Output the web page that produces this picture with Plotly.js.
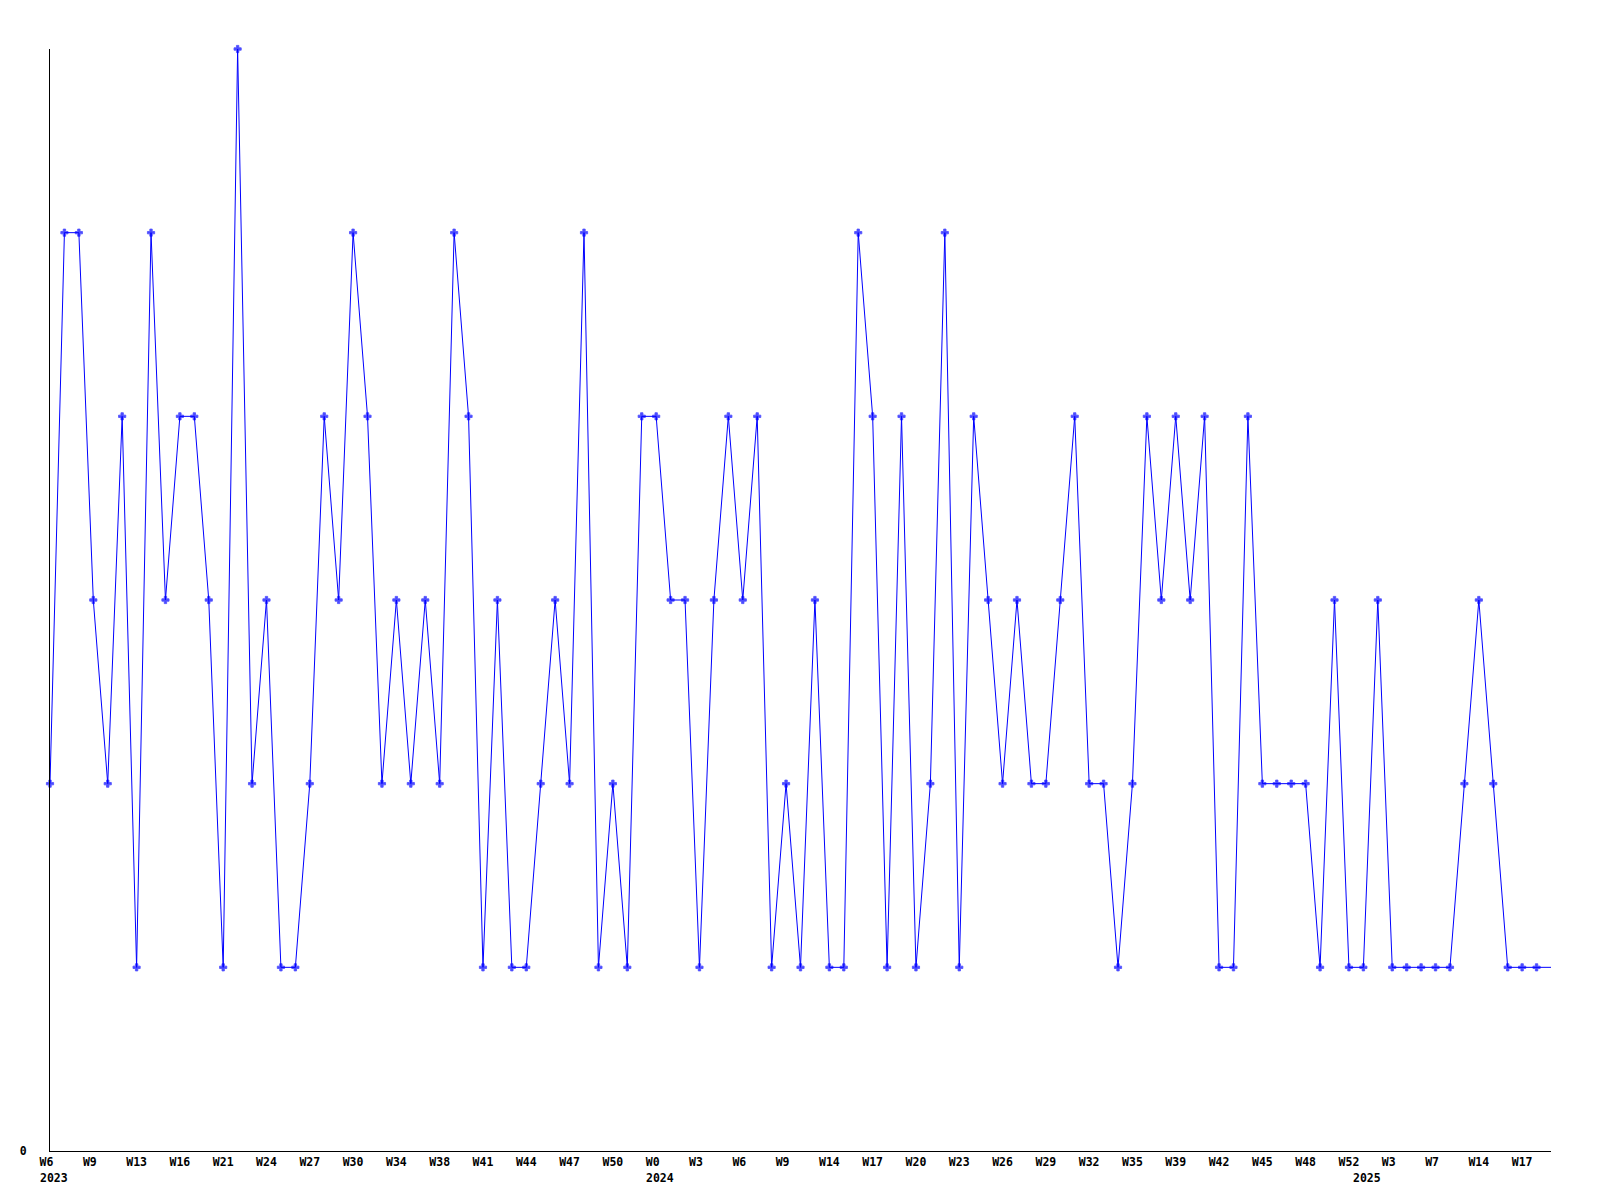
<!DOCTYPE html>
<html>
<head>
<meta charset="utf-8">
<script src="https://cdn.plot.ly/plotly-3.0.1.min.js"></script>
<style>html,body{margin:0;padding:0;background:#fff;}#chart{width:1600px;height:1200px;}</style>
</head>
<body>
<div id="chart"></div>
<script>
// weekly counts, one per point (2023 W6 ... 2025)
const values = [
  2,5,5,3,2,4,1,5,3,4,
  4,3,1,6,2,3,1,1,2,4,
  3,5,4,2,3,2,3,2,5,4,
  1,3,1,1,2,3,2,5,1,2,
  1,4,4,3,3,1,3,4,3,4,
  1,2,1,3,1,1,5,4,1,4,
  1,2,5,1,4,3,2,3,2,2,
  3,4,2,2,1,2,4,3,4,3,
  4,1,1,4,2,2,2,2,1,3,
  1,1,3,1,1,1,1,1,2,3,
  2,1,1,1,1
];
// tick labels, one every 3 points
const tickWeeks = ["W6","W9","W13","W16","W21","W24","W27","W30","W34","W38","W41","W44",
  "W47","W50","W0","W3","W6","W9","W14","W17","W20","W23","W26","W29",
  "W32","W35","W39","W42","W45","W48","W52","W3","W7","W14","W17"];
const tickStep = 3;
// year labels and the point where each year starts
const yearLabels = ["2023", "2024", "2025"];
const yearStartIdx = [0, 42, 91];

const NB = "\u00a0";
const pad = (s, n) => s + NB.repeat(Math.max(0, n - s.length));
const xs = values.map((_, i) => i);
const markerSizes = values.map((_, i) => i === values.length - 1 ? 0 : 6);

const tickvals = tickWeeks.map((_, k) => k * tickStep);
const ticktext = tickWeeks.map(w => pad(w, 3));

const trace = {
  x: xs, y: values, type: "scatter", mode: "lines+markers",
  line: {color: "#0000ff", width: 1},
  marker: {color: "#0000ff", size: markerSizes, symbol: "cross",
           line: {color: "#0000ff", width: 0.8}},
  cliponaxis: false, hoverinfo: "none"
};
const font = {family: "DejaVu Sans Mono", size: 11.5, color: "#000", weight: "bold"};
const annotations = yearLabels.map((t, k) => ({
  text: t, x: yearStartIdx[k], xref: "x", y: 0, yref: "paper",
  xanchor: "left", yanchor: "top", xshift: -11, yshift: -19,
  showarrow: false, font: font, borderpad: 0
}));
const layout = {
  width: 1600, height: 1200,
  margin: {l: 50, r: 49, t: 49, b: 49},
  paper_bgcolor: "#fff", plot_bgcolor: "#fff",
  showlegend: false,
  font: font,
  annotations: annotations,
  xaxis: {
    range: [0, values.length - 1], showgrid: false, zeroline: false,
    showline: true, linecolor: "#000", linewidth: 1,
    tickmode: "array", tickvals: tickvals, ticktext: ticktext,
    ticks: "", tickangle: 0, tickfont: font, ticklabelstandoff: 0
  },
  yaxis: {
    range: [0, 6], showgrid: false, zeroline: false,
    showline: true, linecolor: "#000", linewidth: 1,
    tickmode: "array", tickvals: [0], ticktext: ["0"],
    ticks: "", tickfont: font, ticklabelstandoff: 20
  }
};
Plotly.newPlot("chart", [trace], layout, {staticPlot: true});
</script>
</body>
</html>
